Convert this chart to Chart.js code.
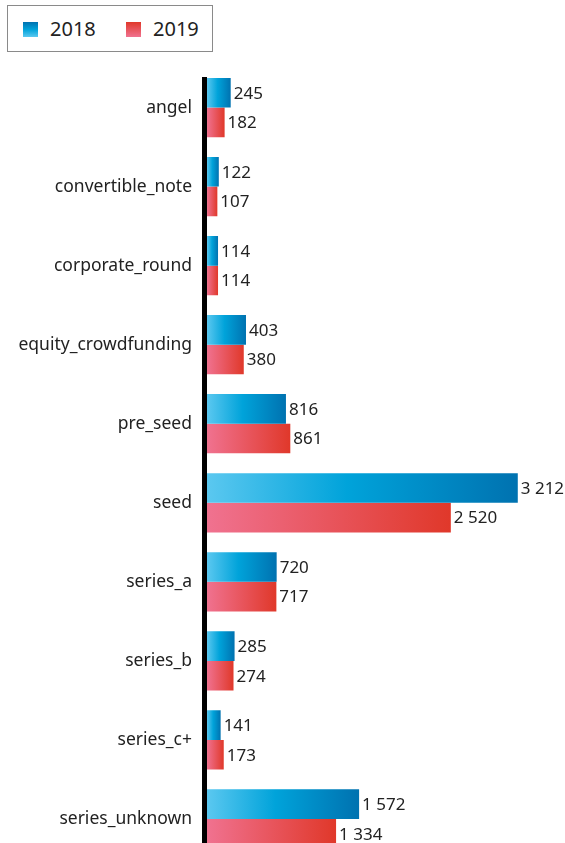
<!DOCTYPE html>
<html>
<head>
<meta charset="utf-8">
<script src="https://cdn.jsdelivr.net/npm/chart.js@4"></script>
<style>
  html, body { margin: 0; padding: 0; overflow: hidden; background: #fff; }
  body { width: 565px; height: 843px; position: relative; font-family: "Noto Sans", sans-serif; }
  #fundingChart { position: absolute; left: 0; top: 0; }
  .legend {
    position: absolute; left: 7px; top: 5px; width: 204px; height: 45px;
    border: 1px solid #8a8a8a; background: #fff; z-index: 2;
  }
  .legend-item { position: absolute; top: 10px; font-size: 20px; color: #222; line-height: 26px; }
  .legend-item .swatch { display: inline-block; width: 15px; height: 15px; margin-right: 12px; vertical-align: -1px; }
  .swatch.blue { background: linear-gradient(to bottom, #0072b0, #00a3da 50%, #5bc8f0); }
  .swatch.red { background: linear-gradient(to bottom, #e0382a, #f07290); }
</style>
</head>
<body>
<div class="legend">
  <div class="legend-item" style="left:15px"><span class="swatch blue"></span>2018</div>
  <div class="legend-item" style="left:118px"><span class="swatch red"></span>2019</div>
</div>
<canvas id="fundingChart" width="565" height="884"></canvas>
<script>
// Data
const categories = [
  "angel",
  "convertible_note",
  "corporate_round",
  "equity_crowdfunding",
  "pre_seed",
  "seed",
  "series_a",
  "series_b",
  "series_c+",
  "series_unknown",
];
const values2018 = [245, 122, 114, 403, 816, 3212, 720, 285, 141, 1572];
const values2019 = [182, 107, 114, 380, 861, 2520, 717, 274, 173, 1334];

const blueStops = [[0, "#5bc8f0"], [0.45, "#00a3da"], [1, "#0072b0"]];
const redStops = [[0, "#f07290"], [1, "#e0382a"]];

function fmt(n) {
  return String(n).replace(/\B(?=(\d{3})+(?!\d))/g, " ");
}

// gradient along each bar's own length
function barGradient(stops) {
  return function (ctx) {
    const chart = ctx.chart;
    const xs = chart.scales.x;
    if (!xs || ctx.parsed == null) return stops[stops.length - 1][1];
    const x0 = xs.getPixelForValue(0);
    const x1 = xs.getPixelForValue(ctx.parsed.x);
    if (!isFinite(x0) || !isFinite(x1) || x1 - x0 < 1) return stops[0][1];
    const g = chart.ctx.createLinearGradient(x0, 0, x1, 0);
    stops.forEach((s) => g.addColorStop(s[0], s[1]));
    return g;
  };
}

// value labels after bar end + the thick axis line
const valueLabels = {
  id: "valueLabels",
  afterDatasetsDraw(chart) {
    const ctx = chart.ctx;
    ctx.save();
    ctx.font = '17px "Noto Sans", sans-serif';
    ctx.fillStyle = "#222";
    ctx.textBaseline = "middle";
    ctx.textAlign = "left";
    chart.data.datasets.forEach((ds, i) => {
      chart.getDatasetMeta(i).data.forEach((bar, j) => {
        ctx.fillText(fmt(ds.data[j]), bar.x + 3, bar.y + 1);
      });
    });
    const area = chart.chartArea;
    ctx.fillStyle = "#000";
    ctx.fillRect(area.left - 5, 77, 5, area.bottom - 77);
    ctx.restore();
  },
};

const chartCtx = document.getElementById("fundingChart").getContext("2d");
const fundingChart = new Chart(chartCtx, {
  type: "bar",
  data: {
    labels: categories,
    datasets: [
      {
        label: "2018",
        data: values2018,
        backgroundColor: barGradient(blueStops),
        borderWidth: 0,
      },
      {
        label: "2019",
        data: values2019,
        backgroundColor: barGradient(redStops),
        borderWidth: 0,
      },
    ],
  },
  options: {
    indexAxis: "y",
    responsive: false,
    animation: false,
    categoryPercentage: 0.75,
    barPercentage: 1,
    layout: { padding: { top: 68, right: 0, bottom: 0, left: 0 } },
    plugins: {
      legend: { display: false },
      tooltip: { enabled: false },
    },
    scales: {
      x: {
        display: false,
        min: 0,
        max: 3700,
      },
      y: {
        grid: { display: false, drawTicks: false },
        border: { display: false },
        ticks: {
          color: "#222",
          padding: 15,
          font: { family: "Noto Sans", size: 17.5 },
        },
        afterFit(scale) {
          scale.width = 207;
        },
      },
    },
  },
  plugins: [valueLabels],
});
</script>
</body>
</html>
